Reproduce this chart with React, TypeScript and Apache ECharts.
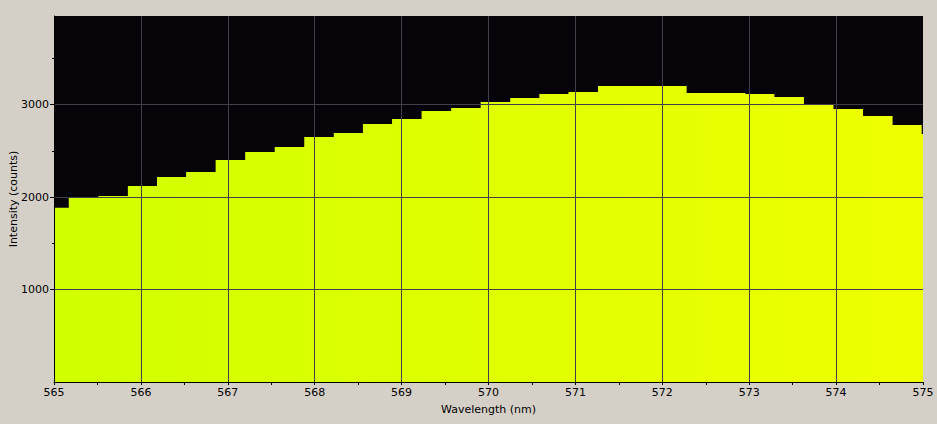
import React, { useEffect, useRef } from "react";
import * as echarts from "echarts";

// Bin centres (nm) and intensity counts
const wavelengths = [
  565.0, 565.34, 565.68, 566.02, 566.35, 566.69, 567.03, 567.37, 567.71, 568.05,
  568.39, 568.72, 569.06, 569.4, 569.74, 570.08, 570.42, 570.75, 571.09, 571.43,
  571.77, 572.11, 572.45, 572.79, 573.12, 573.46, 573.8, 574.14, 574.48, 574.82,
  575.15,
];
const intensity = [
  1886, 1991, 2013, 2121, 2218, 2272, 2402, 2489, 2543, 2651,
  2694, 2792, 2846, 2932, 2965, 3030, 3073, 3116, 3138, 3203,
  3203, 3203, 3127, 3127, 3116, 3084, 3008, 2954, 2878, 2781,
  2683,
];
const yLabelValues = [1000, 2000, 3000];
const yMinorTickValues = [1500, 2500, 3500];

const FONT = "DejaVu Sans";
const Y_MAX = 3960;

export default function App() {
  const ref = useRef<HTMLDivElement>(null);

  useEffect(() => {
    document.body.style.margin = "0";
    if (!ref.current) return;
    const chart = echarts.init(ref.current, null, { renderer: "svg" });
    const data = wavelengths.map((w, i) => [w, intensity[i]]);
    const tickAxis = (values: number[], length: number) => ({
      type: "value",
      min: 0,
      max: Y_MAX,
      position: "left",
      z: 3,
      axisLine: { show: false },
      axisTick: { show: true, length, customValues: values, lineStyle: { color: "#000" } },
      axisLabel: { show: false },
      splitLine: { show: false },
    });
    chart.setOption({
      animation: false,
      backgroundColor: "#d4d0c8",
      grid: {
        left: 54,
        right: 14,
        top: 16,
        bottom: 42,
        containLabel: false,
        outerBoundsMode: "none",
        show: true,
        backgroundColor: "#060409",
        borderWidth: 0,
        z: 0,
      },
      xAxis: {
        type: "value",
        min: 565,
        max: 575,
        interval: 1,
        z: 3,
        name: "Wavelength (nm)",
        nameLocation: "middle",
        nameGap: 22,
        nameMoveOverlap: false,
        nameTextStyle: { color: "#000", fontFamily: FONT, fontSize: 11 },
        axisLine: { show: true, onZero: false, lineStyle: { color: "#000", width: 1 } },
        axisTick: { show: true, length: 3, lineStyle: { color: "#000" } },
        minorTick: { show: true, splitNumber: 2, length: 3, lineStyle: { color: "#000" } },
        axisLabel: {
          color: "#000",
          fontFamily: FONT,
          fontSize: 11,
          margin: 5,
          showMinLabel: true,
          showMaxLabel: true,
          formatter: (v: number) => String(v),
        },
        splitLine: {
          show: true,
          showMinLine: false,
          showMaxLine: false,
          lineStyle: { color: "#413f47", width: 1 },
        },
        minorSplitLine: { show: false },
      },
      yAxis: [
        {
          type: "value",
          min: 0,
          max: Y_MAX,
          interval: 1000,
          z: 3,
          name: "Intensity (counts)",
          nameLocation: "middle",
          nameGap: 35,
          nameMoveOverlap: false,
          nameTextStyle: { color: "#000", fontFamily: FONT, fontSize: 11 },
          axisLine: { show: true, onZero: false, lineStyle: { color: "#000", width: 1 } },
          axisTick: { show: false },
          axisLabel: {
            color: "#000",
            fontFamily: FONT,
            fontSize: 11,
            margin: 5,
            showMinLabel: false,
            showMaxLabel: false,
            formatter: (v: number) => (yLabelValues.indexOf(v) >= 0 ? String(v) : ""),
          },
          splitLine: {
            show: true,
            showMinLine: false,
            showMaxLine: false,
            lineStyle: { color: "#413f47", width: 1 },
          },
        },
        tickAxis(yLabelValues, 4),
        tickAxis(yMinorTickValues, 2),
      ],
      series: [
        {
          type: "line",
          step: "middle",
          data,
          yAxisIndex: 0,
          symbol: "none",
          z: 2,
          clip: true,
          lineStyle: { width: 0, opacity: 0 },
          areaStyle: {
            opacity: 1,
            color: new echarts.graphic.LinearGradient(0, 0, 1, 0, [
              { offset: 0, color: "#d0ff00" },
              { offset: 1, color: "#efff00" },
            ]),
          },
        },
      ],
    });
    return () => chart.dispose();
  }, []);

  return (
    <div
      ref={ref}
      style={{ position: "absolute", left: 0, top: 0, width: 937, height: 424 }}
    />
  );
}
